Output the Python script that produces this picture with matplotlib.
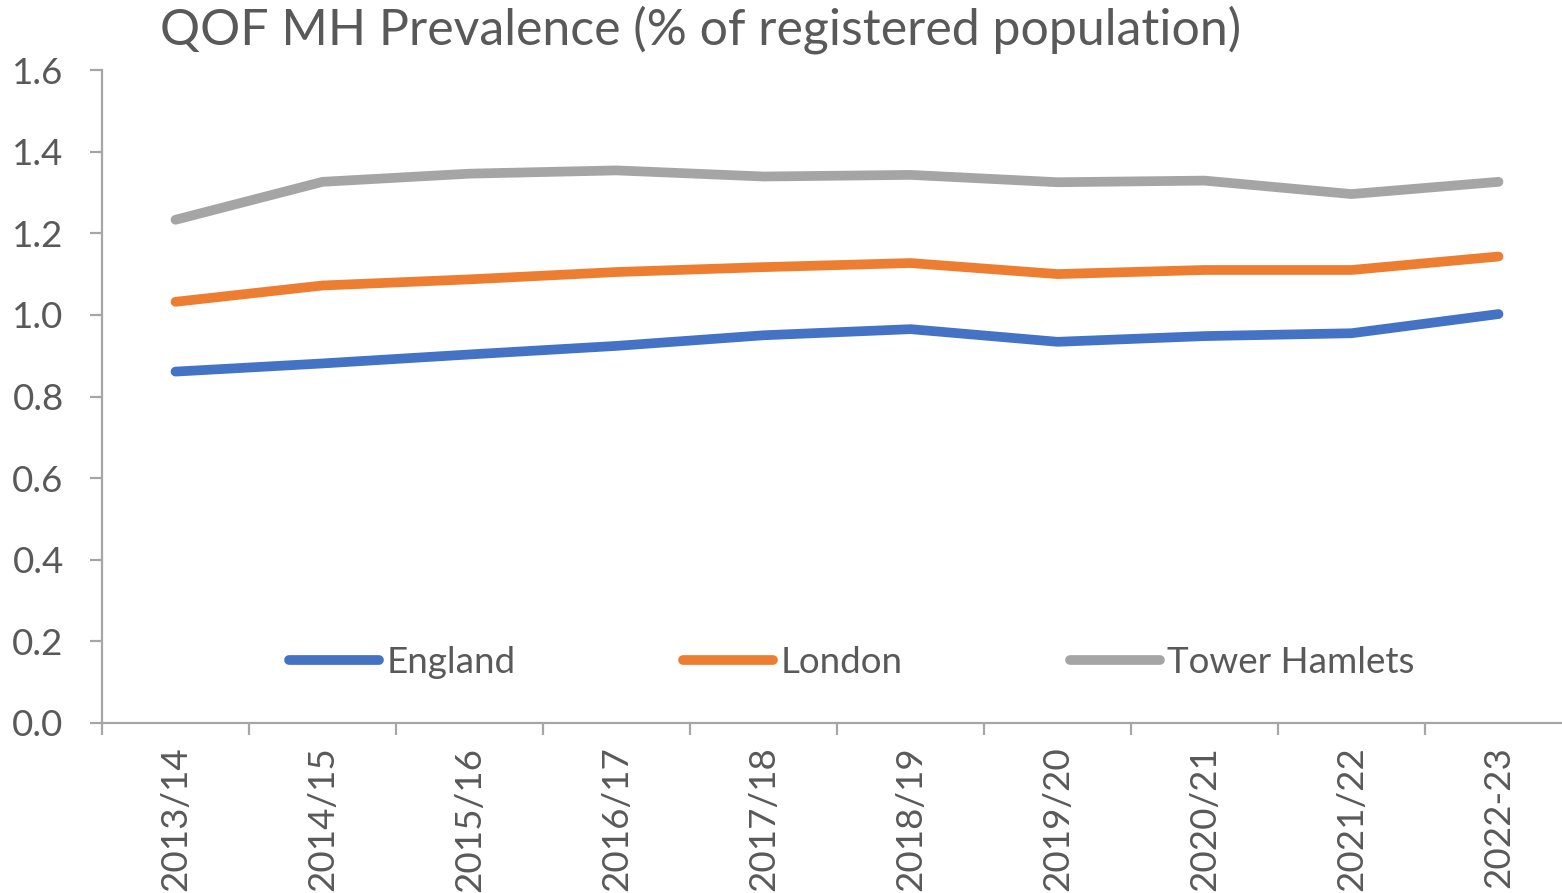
import matplotlib
matplotlib.use("Agg")
import matplotlib.pyplot as plt
import numpy as np

years = ["2013/14", "2014/15", "2015/16", "2016/17", "2017/18",
         "2018/19", "2019/20", "2020/21", "2021/22", "2022-23"]
england = [0.861, 0.881, 0.903, 0.924, 0.950, 0.965, 0.934, 0.948, 0.955, 1.002]
london = [1.032, 1.072, 1.087, 1.105, 1.117, 1.127, 1.100, 1.110, 1.110, 1.143]
tower_hamlets = [1.233, 1.326, 1.346, 1.354, 1.339, 1.343, 1.325, 1.329, 1.296, 1.326]
yticks = [0.0, 0.2, 0.4, 0.6, 0.8, 1.0, 1.2, 1.4, 1.6]

plt.rcParams['font.family'] = ['Lato', 'DejaVu Sans']
txt = '#595959'
axc = '#A6A6A6'

fig = plt.figure(figsize=(15.62, 8.93), dpi=100)
ax = fig.add_axes([102/1562, 1-723/893, 1470/1562, 653/893])

x = np.arange(len(years))
kw = dict(lw=7, solid_capstyle='round', solid_joinstyle='round')
ax.plot(x, england, color='#4472C4', label='England', **kw)
ax.plot(x, london, color='#ED7D31', label='London', **kw)
ax.plot(x, tower_hamlets, color='#A5A5A5', label='Tower Hamlets', **kw)

ax.set_xlim(-0.5, len(years) - 0.5)
ax.set_ylim(0, 1.6)
ax.set_yticks(yticks)
ax.set_yticklabels([f"{v:.1f}" for v in yticks])
ax.set_xticks(x)
ax.set_xticklabels(years, rotation=90)
ax.set_xticks(np.arange(len(years) + 1) - 0.5, minor=True)

for s in ['top', 'right']:
    ax.spines[s].set_visible(False)
for s in ['left', 'bottom']:
    ax.spines[s].set_color(axc)
    ax.spines[s].set_linewidth(1.6)

ax.tick_params(axis='y', length=8.6, width=1.6, color=axc, pad=19, labelsize=26.5, labelcolor=txt)
ax.tick_params(axis='x', which='major', length=0, pad=17, labelsize=26.5, labelcolor=txt)
ax.tick_params(axis='x', which='minor', length=8.6, width=1.6, color=axc)

leg = ax.legend(loc='center', bbox_to_anchor=(0.510, 0.093), ncol=3, frameon=False,
                fontsize=26.5, handlelength=2.45, handletextpad=0.2, columnspacing=4.55,
                borderpad=0, borderaxespad=0)
for t in leg.get_texts():
    t.set_color(txt)

fig.text(701/1562, 1-45/893, "QOF MH Prevalence (% of registered population)",
         ha='center', va='baseline', fontsize=36, color=txt)

fig.savefig("out.png", dpi=100)
